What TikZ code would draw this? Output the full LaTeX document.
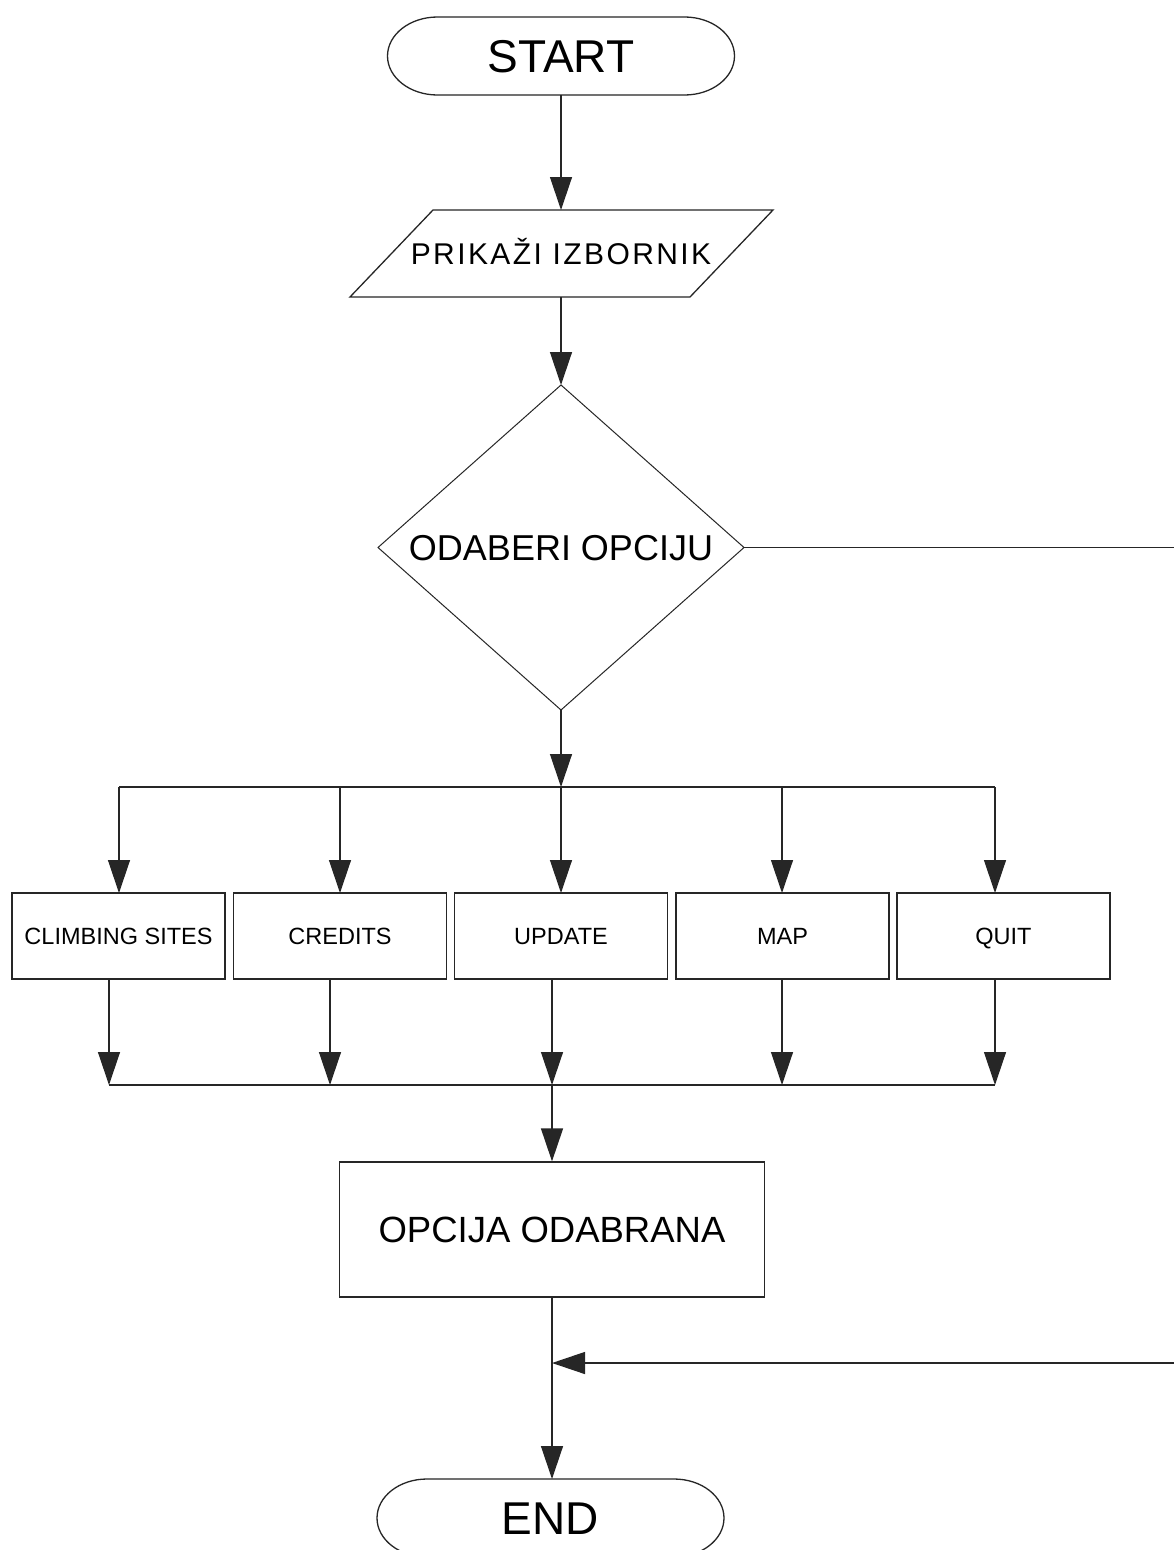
\documentclass[tikz,border=0pt]{standalone}
\usepackage{fontspec}
\setmainfont{Liberation Sans}
\newfontfamily\spacedfont[LetterSpace=8]{Liberation Sans}
\usetikzlibrary{arrows.meta}
\tikzset{
  ln/.style={line width=1.3pt, draw=black!85},
  arr/.style={ln, -{Triangle[length=33pt,width=22pt]}},
  blank/.style={draw=none, inner sep=0pt, outer sep=0pt},
  optbox/.style={ln, rectangle, minimum width=213pt, minimum height=86pt, inner sep=0pt, outer sep=0pt, text height=16.8pt, text depth=0pt, font=\fontsize{23.5}{26}\selectfont},
}
\begin{document}
\begin{tikzpicture}[x=1pt,y=-1pt]
\useasboundingbox (0,0) rectangle (1174,1550);
\fill[white] (0,0) rectangle (1174,1550);
\clip (0,0) rectangle (1174,1550);

% START terminator
\node[blank, minimum width=347pt, minimum height=78pt, text height=33pt, text depth=0pt, font=\fontsize{46}{50}\selectfont] (start) at (561,56) {START};
\draw[ln] ([xshift=50pt]start.north west) -- ([xshift=-50pt]start.north east)
  arc[start angle=-90, end angle=90, x radius=50, y radius=39]
  -- ([xshift=50pt]start.south west)
  arc[start angle=90, end angle=270, x radius=50, y radius=39] -- cycle;

% display parallelogram
\node[blank, minimum width=340pt, minimum height=87pt, text height=21.5pt, text depth=0pt, font=\fontsize{30}{34}\spacedfont] (disp) at (561,253.5) {PRIKAŽI IZBORNIK};
\draw[ln] (433,210) -- (773,210) -- (690,297) -- (350,297) -- cycle;

% decision diamond
\node[blank, minimum width=366pt, minimum height=325pt, text height=25.8pt, text depth=0pt, font=\fontsize{36}{40}\selectfont] (dec) at (561,547.5) {ODABERI OPCIJU};
\draw[ln, line width=1pt] (dec.north) -- (dec.east) -- (dec.south) -- (dec.west) -- cycle;

% option boxes
\node[optbox] (b1) at (118.5,936) {CLIMBING SITES};
\node[optbox] (b2) at (340,936) {CREDITS};
\node[optbox] (b3) at (561,936) {UPDATE};
\node[optbox] (b4) at (782.5,936) {MAP};
\node[optbox] (b5) at (1003.5,936) {QUIT};

% result box
\node[ln, rectangle, minimum width=425pt, minimum height=135pt, inner sep=0pt, text height=26.1pt, text depth=0pt, font=\fontsize{36.5}{40}\selectfont] (opt) at (552,1229.5) {OPCIJA ODABRANA};

% END terminator
\node[blank, minimum width=347pt, minimum height=78pt, text height=33pt, text depth=0pt, font=\fontsize{46}{50}\selectfont] (end) at (550.5,1518) {END};
\draw[ln] ([xshift=50pt]end.north west) -- ([xshift=-50pt]end.north east)
  arc[start angle=-90, end angle=90, x radius=50, y radius=39]
  -- ([xshift=50pt]end.south west)
  arc[start angle=90, end angle=270, x radius=50, y radius=39] -- cycle;

% coordinates of buses
\coordinate (t1) at (119,787);
\coordinate (t2) at (340,787);
\coordinate (t3) at (561,787);
\coordinate (t4) at (782,787);
\coordinate (t5) at (995,787);
\coordinate (u1) at (109,1085);
\coordinate (u2) at (330,1085);
\coordinate (u3) at (552,1085);
\coordinate (u4) at (782,1085);
\coordinate (u5) at (995,1085);
\coordinate (rt) at (1200,547.5);
\coordinate (rb) at (1200,1363);
\coordinate (jn) at (552,1363);

% connectors
\draw[arr] (start.south) -- (disp.north);
\draw[arr] (disp.south) -- (dec.north);
\draw[arr] (dec.south) -- (t3);
\draw[ln] (t1) -- (t5);
\draw[arr] (t1) -- (t1 |- b1.north);
\draw[arr] (t2) -- (t2 |- b2.north);
\draw[arr] (t3) -- (t3 |- b3.north);
\draw[arr] (t4) -- (t4 |- b4.north);
\draw[arr] (t5) -- (t5 |- b5.north);
\draw[arr] (u1 |- b1.south) -- (u1);
\draw[arr] (u2 |- b2.south) -- (u2);
\draw[arr] (u3 |- b3.south) -- (u3);
\draw[arr] (u4 |- b4.south) -- (u4);
\draw[arr] (u5 |- b5.south) -- (u5);
\draw[ln] (u1) -- (u5);
\draw[arr] (u3) -- (opt.north);
\draw[arr] (opt.south) -- (opt.south |- end.north);
\draw[ln] (dec.east) -- (rt) -- (rb);
\draw[arr] (rb) -- (jn);
\end{tikzpicture}
\end{document}
